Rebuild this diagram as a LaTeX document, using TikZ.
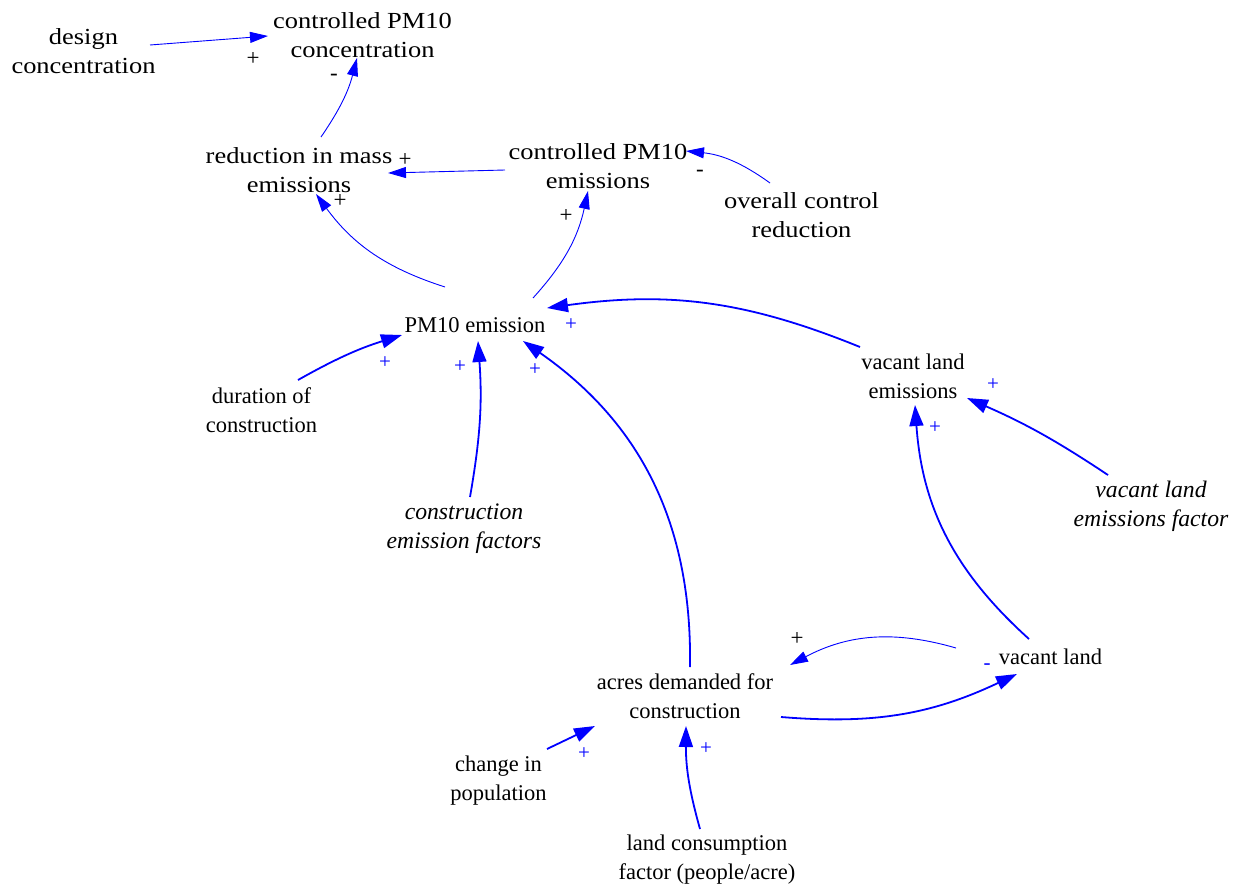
\documentclass[tikz,border=0pt]{standalone}
\usepackage{fontspec}
\setmainfont{Liberation Serif}
\newfontfamily\widefont[FakeStretch=1.15]{Liberation Serif}
\usetikzlibrary{arrows.meta}
\definecolor{linkblue}{RGB}{0,0,255}
\begin{document}
\begin{tikzpicture}[x=1pt,y=1pt,
  var/.style={align=center, inner sep=0pt, anchor=base},
  upper/.style={var, font=\widefont\fontsize{23}{29}\selectfont},
  lower/.style={var, font=\fontsize{22.5}{29}\selectfont},
  given/.style={var, font=\itshape\fontsize{23.7}{29}\selectfont},
  thinlink/.style={draw=linkblue, line width=0.9pt, -{Triangle[length=18pt,width=11pt]}},
  thicklink/.style={draw=linkblue, line width=1.8pt, -{Triangle[length=21pt,width=14pt]}},
  pol/.style={inner sep=0pt, anchor=center},
  bpol/.style={pol, text=black, font=\fontsize{23}{23}\selectfont},
  lpol/.style={pol, text=linkblue, font=\fontsize{21}{21}\selectfont}]

\useasboundingbox (0,-886) rectangle (1234,0);
\fill[white] (0,-886) rectangle (1234,0);

% variables (each placed at the baseline of its last line)
\node[upper] (dc)  at (83.5,-73)    {design\\concentration};
\node[upper] (cc)  at (362.5,-57.5) {controlled PM10\\concentration};
\node[upper] (rm)  at (299,-192)    {reduction in mass\\emissions};
\node[upper] (ce)  at (598,-188)    {controlled PM10\\emissions};
\node[upper] (oc)  at (801.5,-237)  {overall control\\reduction};
\node[lower] (pm)  at (475,-332)    {PM10 emission};
\node[lower] (vle) at (913,-398.5)  {vacant land\\emissions};
\node[lower] (dur) at (261.5,-432.5){duration of\\construction};
\node[given] (cef) at (464,-548.5)  {construction\\emission factors};
\node[given] (vlf) at (1151,-526.5) {vacant land\\emissions factor};
\node[lower] (acr) at (685,-718)    {acres demanded for\\construction};
\node[lower] (vl)  at (1050.5,-664) {vacant land};
\node[lower] (cp)  at (498.5,-800.5){change in\\population};
\node[lower] (lc)  at (707,-879)    {land consumption\\factor (people/acre)};

% causal links
\draw[thinlink] ([shift={(66.5,28)}]dc.base) -- ([shift={(-94.5,21.5)}]cc.base);
\draw[thinlink] ([shift={(22,55)}]rm.base) to[bend right=10] ([shift={(-5.5,-0.5)}]cc.base);
\draw[thinlink] ([shift={(-93,18)}]ce.base) -- ([shift={(89,19)}]rm.base);
\draw[thinlink] ([shift={(-31.5,54)}]oc.base) to[bend right=15] ([shift={(88,37)}]ce.base);
\draw[thinlink] ([shift={(-30,45)}]pm.base) to[bend left=18] ([shift={(17,-2)}]rm.base);
\draw[thinlink] ([shift={(58,34)}]pm.base) to[bend right=15] ([shift={(-10,-3)}]ce.base);
\draw[thicklink] ([shift={(36.5,52.5)}]dur.base) to[bend left=6] ([shift={(-73,-3)}]pm.base);
\draw[thicklink] ([shift={(6,51.5)}]cef.base) to[bend right=7] ([shift={(3,-9)}]pm.base);
\draw[thicklink] ([shift={(5,51)}]acr.base) to[bend right=28] ([shift={(48,-9)}]pm.base);
\draw[thicklink] ([shift={(-53,51.5)}]vle.base) to[bend right=15] ([shift={(72,24)}]pm.base);
\draw[thicklink] ([shift={(-21.5,25)}]vl.base) to[bend left=22] ([shift={(2,-6.5)}]vle.base);
\draw[thicklink] ([shift={(-43,51.5)}]vlf.base) to[bend right=5] ([shift={(54,0.5)}]vle.base);
\draw[thinlink] ([shift={(-94.5,16)}]vl.base) to[bend right=22] ([shift={(105,53)}]acr.base);
\draw[thicklink] ([shift={(96,1)}]acr.base) to[bend right=15] ([shift={(-33.5,-10)}]vl.base);
\draw[thicklink] ([shift={(48.5,51.5)}]cp.base) -- ([shift={(-90,-8)}]acr.base);
\draw[thicklink] ([shift={(-7,50)}]lc.base) to[bend left=8] ([shift={(1,-8)}]acr.base);

% link polarities
\node[bpol] (s1) at (253,-59) {+};
\node[bpol] (s2) at (334,-77) {-};
\node[bpol] (s3) at (405,-160) {+};
\node[bpol] (s4) at (340,-201) {+};
\node[bpol] (s5) at (566,-216) {+};
\node[bpol] (s6) at (700,-173) {-};
\node[bpol] (s7) at (797,-639) {+};
\node[lpol] (s8) at (385,-363) {+};
\node[lpol] (s9) at (460,-367) {+};
\node[lpol] (s10) at (535,-370) {+};
\node[lpol] (s11) at (571,-325) {+};
\node[lpol] (s12) at (993,-385) {+};
\node[lpol] (s13) at (935,-428) {+};
\node[lpol] (s14) at (584,-754) {+};
\node[lpol] (s15) at (706,-749) {+};
\node[lpol] (s16) at (987,-667) {-};
\end{tikzpicture}
\end{document}
